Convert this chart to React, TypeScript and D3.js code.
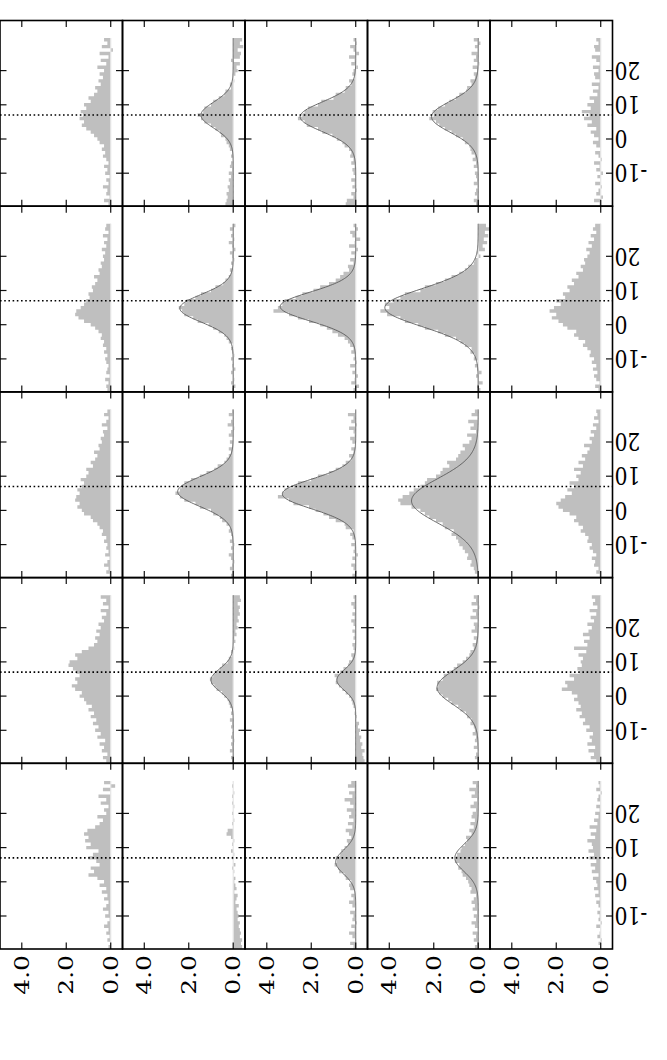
import React from 'react';
import * as d3 from 'd3';

// grid of 5x5 spectra, drawn rotated: flux runs right-to-left, velocity bottom-to-top
const W = 667;
const H = 1060;
const gridLeft = 0;
const gridTop = 20.5;
const panelW = 122.5;
const panelH = 185.7;

const fluxDomain = [4.98, -0.53];
const velDomain = [-19.65, 34.65];

const fluxTicks = [0, 2, 4];
const fluxTickLabels = ['0.0', '2.0', '4.0'];
const velTicks = [-10, 0, 10, 20];
const velTickLabels = ['-10', '0', '10', '20'];
const markerVelocity = 7.0;

// channel centres, km/s
const channels = d3.range(-19, 30);

// spectra, one row of panels per array, values for channels -19..29
const spectraRow1 = [
  [0.1, 0.3, 0.05, 0.2, 0.15, 0.35, 0.1, 0.2, 0.05, 0.25,
   0.15, 0.3, 0.1, 0.2, 0.35, 0.25, 0.4, 0.3, 0.5, 0.6,
   0.75, 0.9, 1.1, 1.3, 1.2, 1.4, 1.25, 1.35, 1.1, 1.2,
   0.9, 1.0, 0.75, 0.6, 0.7, 0.45, 0.55, 0.35, 0.5, 0.3,
   0.6, 0.2, 0.45, 0.1, 0.5, -0.1, 0.4, 0.15, 0.3],
  [0.35, 0.3, 0.25, 0.3, 0.2, 0.25, 0.15, 0.2, 0.1, 0.2,
   0.05, 0.15, 0.1, 0.0, 0.1, 0.05, 0.15, 0.2, 0.3, 0.35,
   0.55, 0.6, 0.8, 1.0, 1.3, 1.45, 1.6, 1.35, 1.3, 1.0,
   0.9, 0.65, 0.4, 0.35, 0.1, 0.15, -0.05, 0.0, -0.1, -0.2,
   -0.15, -0.3, 0.1, -0.3, -0.35, -0.2, -0.45, -0.3, -0.4],
  [0.45, 0.4, 0.1, 0.2, -0.05, 0.15, 0.05, 0.2, 0.0, 0.1,
   0.15, 0.05, 0.2, 0.1, 0.25, 0.2, 0.3, 0.5, 0.6, 0.85,
   1.05, 1.5, 1.7, 2.2, 2.3, 2.6, 2.4, 2.3, 2.15, 1.7,
   1.55, 1.0, 0.9, 0.5, 0.45, 0.2, 0.3, 0.05, 0.15, 0.1,
   -0.1, 0.2, 0.05, 0.3, -0.15, 0.1, 0.25, -0.05, 0.1],
  [0.1, 0.2, 0.05, 0.15, 0.1, 0.0, 0.2, 0.05, 0.1, 0.15,
   0.0, 0.2, 0.1, 0.25, 0.15, 0.3, 0.35, 0.4, 0.6, 0.7,
   1.0, 1.2, 1.5, 1.75, 1.9, 2.2, 2.0, 2.05, 1.8, 1.5,
   1.3, 1.0, 0.85, 0.55, 0.5, 0.3, 0.35, 0.15, 0.2, 0.05,
   0.25, -0.05, 0.2, 0.1, 0.3, 0.0, 0.15, -0.1, 0.2],
  [0.05, 0.3, -0.1, 0.2, 0.1, -0.05, 0.25, 0.0, 0.15, -0.1,
   0.2, 0.05, 0.3, -0.05, 0.1, 0.25, 0.0, 0.2, 0.35, 0.1,
   0.3, 0.45, 0.2, 0.6, 0.4, 0.75, 0.5, 0.85, 0.45, 0.6,
   0.3, 0.5, 0.15, 0.35, 0.1, 0.4, 0.05, 0.25, 0.3, 0.1,
   0.35, 0.05, 0.2, 0.4, 0.0, 0.25, 0.3, 0.1, 0.2],
];

const spectraRow2 = [
  [0.15, 0.2, 0.1, 0.25, 0.05, 0.2, 0.15, 0.1, 0.2, 0.25,
   0.15, 0.3, 0.2, 0.35, 0.3, 0.45, 0.4, 0.55, 0.7, 0.9,
   1.2, 1.45, 1.6, 1.55, 1.35, 1.2, 1.1, 0.95, 1.0, 0.8,
   0.85, 0.7, 0.6, 0.75, 0.5, 0.55, 0.4, 0.45, 0.3, 0.35,
   0.25, 0.4, 0.2, 0.3, 0.15, 0.35, 0.1, 0.25, 0.2],
  [0.05, -0.1, 0.1, -0.05, 0.0, 0.1, -0.1, 0.05, 0.0, 0.1,
   -0.05, 0.05, 0.1, 0.0, 0.2, 0.3, 0.4, 0.65, 0.9, 1.1,
   1.6, 1.8, 2.2, 2.3, 2.45, 2.2, 2.1, 1.7, 1.45, 1.0,
   0.8, 0.45, 0.35, 0.2, 0.1, 0.15, 0.0, 0.1, -0.05, 0.05,
   0.15, -0.1, 0.05, 0.2, -0.05, 0.1, 0.0, 0.15, -0.1],
  [0.1, -0.15, 0.2, 0.05, -0.1, 0.15, 0.0, 0.25, -0.05, 0.1,
   0.05, 0.2, 0.1, 0.25, 0.35, 0.5, 0.8, 1.05, 1.3, 1.6,
   2.1, 2.6, 3.0, 3.7, 3.5, 3.3, 3.2, 2.7, 2.4, 1.9,
   1.6, 1.2, 0.9, 0.7, 0.55, 0.3, 0.35, 0.1, 0.25, 0.05,
   0.2, -0.1, 0.3, 0.05, -0.2, 0.15, 0.25, -0.1, 0.1],
  [-0.1, 0.05, -0.2, 0.0, 0.1, -0.15, 0.05, 0.15, 0.0, 0.2,
   0.15, 0.35, 0.3, 0.6, 0.8, 1.0, 1.5, 1.8, 2.4, 2.7,
   3.3, 3.5, 4.1, 4.4, 4.0, 4.2, 3.8, 3.5, 3.3, 2.6,
   2.4, 1.9, 1.5, 1.2, 0.85, 0.6, 0.45, 0.2, 0.15, -0.1,
   0.05, -0.3, -0.2, -0.4, -0.25, -0.45, -0.3, -0.5, -0.35],
  [0.1, 0.25, 0.05, 0.2, 0.3, 0.15, 0.35, 0.2, 0.4, 0.3,
   0.5, 0.45, 0.6, 0.8, 0.7, 1.0, 1.2, 1.1, 1.5, 1.7,
   1.9, 2.2, 2.0, 2.3, 2.1, 1.8, 2.0, 1.6, 1.7, 1.4,
   1.5, 1.2, 1.3, 1.0, 1.1, 0.8, 0.9, 0.7, 0.75, 0.6,
   0.5, 0.65, 0.4, 0.55, 0.3, 0.45, 0.2, 0.35, 0.25],
];

const spectraRow3 = [
  [0.05, 0.2, 0.1, 0.3, 0.15, 0.05, 0.25, 0.1, 0.2, 0.15,
   0.3, 0.2, 0.4, 0.35, 0.5, 0.6, 0.8, 0.9, 1.2, 1.3,
   1.5, 1.4, 1.6, 1.55, 1.4, 1.5, 1.3, 1.2, 1.35, 1.1,
   1.0, 1.1, 0.8, 0.9, 0.7, 0.6, 0.75, 0.5, 0.55, 0.4,
   0.45, 0.3, 0.35, 0.15, 0.4, 0.2, 0.1, 0.3, 0.15],
  [0.1, 0.0, 0.15, 0.05, -0.05, 0.1, 0.2, 0.0, 0.1, -0.05,
   0.15, 0.05, 0.1, 0.2, 0.15, 0.3, 0.5, 0.6, 0.9, 1.0,
   1.5, 1.7, 2.2, 2.4, 2.6, 2.4, 2.3, 2.2, 1.9, 1.5,
   1.2, 0.85, 0.7, 0.4, 0.3, 0.2, 0.1, 0.2, 0.05, 0.15,
   0.0, 0.2, 0.1, -0.05, 0.25, 0.1, 0.0, 0.2, 0.05],
  [0.15, -0.05, 0.1, 0.2, 0.0, 0.15, -0.1, 0.1, 0.05, 0.2,
   0.0, 0.15, 0.25, 0.1, 0.45, 0.5, 0.9, 1.2, 1.45, 1.8,
   2.1, 2.8, 3.0, 3.5, 3.3, 3.2, 2.8, 2.6, 2.0, 1.7,
   1.2, 0.9, 0.6, 0.45, 0.2, 0.3, 0.1, 0.2, 0.0, 0.15,
   0.25, 0.05, 0.1, 0.3, -0.05, 0.2, 0.1, 0.35, 0.0],
  [0.05, 0.15, 0.2, 0.35, 0.3, 0.5, 0.45, 0.6, 0.7, 0.85,
   0.9, 1.0, 1.2, 1.1, 1.5, 1.6, 1.9, 2.2, 2.4, 2.6,
   3.0, 3.5, 3.6, 3.4, 3.1, 2.9, 2.6, 2.4, 2.3, 1.9,
   1.7, 1.6, 1.3, 1.4, 1.0, 0.9, 0.8, 0.6, 0.7, 0.4,
   0.3, 0.5, 0.1, 0.35, 0.2, 0.45, 0.0, 0.3, 0.15],
  [0.05, 0.2, 0.1, 0.3, 0.25, 0.4, 0.2, 0.35, 0.5, 0.4,
   0.6, 0.55, 0.7, 0.9, 0.8, 1.0, 1.2, 1.1, 1.4, 1.7,
   1.9, 2.0, 1.8, 1.6, 1.3, 1.5, 1.2, 1.4, 1.0, 1.1,
   0.9, 1.2, 0.8, 1.0, 0.7, 0.85, 0.6, 0.5, 0.75, 0.4,
   0.5, 0.3, 0.45, 0.2, 0.35, 0.1, 0.3, 0.15, 0.2],
];

const spectraRow4 = [
  [0.2, 0.35, 0.15, 0.4, 0.3, 0.5, 0.25, 0.6, 0.45, 0.7,
   0.55, 0.8, 0.65, 0.9, 0.75, 1.0, 0.85, 1.1, 1.2, 1.4,
   1.3, 1.6, 1.75, 1.5, 1.6, 1.4, 1.55, 1.7, 1.9, 1.85,
   1.5, 1.6, 1.3, 1.0, 0.75, 0.6, 0.7, 0.5, 0.65, 0.45,
   0.55, 0.3, 0.4, 0.2, 0.45, 0.1, 0.35, 0.2, 0.45],
  [0.05, 0.1, 0.0, 0.15, 0.05, 0.1, -0.05, 0.1, 0.05, 0.0,
   0.1, 0.05, 0.15, 0.0, 0.1, 0.05, 0.15, 0.2, 0.25, 0.4,
   0.5, 0.75, 0.85, 1.0, 1.05, 0.9, 0.8, 0.6, 0.5, 0.25,
   0.2, 0.05, 0.1, -0.05, 0.0, -0.1, -0.05, -0.15, -0.1, -0.2,
   -0.15, -0.25, -0.2, -0.3, -0.25, -0.3, -0.2, -0.35, -0.3],
  [-0.4, -0.35, -0.3, -0.4, -0.25, -0.3, -0.2, -0.25, -0.15, -0.2,
   -0.1, -0.15, 0.0, -0.05, 0.05, 0.0, 0.1, 0.15, 0.2, 0.3,
   0.45, 0.6, 0.75, 0.9, 0.85, 0.95, 0.7, 0.55, 0.35, 0.3,
   0.15, 0.2, 0.05, 0.1, 0.15, 0.0, 0.1, 0.05, 0.15, 0.0,
   0.1, 0.2, 0.05, 0.15, 0.0, 0.1, 0.2, 0.05, 0.1],
  [0.05, 0.15, 0.1, 0.0, 0.2, 0.05, 0.15, 0.1, 0.25, 0.15,
   0.2, 0.35, 0.3, 0.5, 0.55, 0.8, 0.9, 1.2, 1.35, 1.6,
   1.75, 1.9, 1.8, 1.85, 1.6, 1.55, 1.3, 1.1, 0.95, 0.7,
   0.55, 0.4, 0.35, 0.2, 0.25, 0.1, 0.2, 0.05, 0.3, 0.15,
   0.2, 0.0, 0.35, 0.1, 0.25, -0.05, 0.3, 0.1, 0.2],
  [0.2, 0.45, 0.3, 0.55, 0.25, 0.6, 0.4, 0.5, 0.35, 0.65,
   0.5, 0.8, 0.7, 0.95, 0.85, 1.1, 0.9, 1.0, 1.2, 1.05,
   1.3, 1.75, 1.5, 1.6, 1.2, 1.4, 0.95, 1.05, 0.85, 0.9,
   0.8, 1.0, 0.65, 1.2, 0.6, 0.75, 0.5, 0.8, 0.55, 0.4,
   0.6, 0.3, 0.45, 0.2, 0.5, 0.15, 0.35, 0.25, 0.4],
];

const spectraRow5 = [
  [0.1, 0.0, 0.15, 0.05, 0.2, 0.1, 0.3, 0.15, 0.05, 0.25,
   0.1, 0.35, 0.2, 0.1, 0.3, 0.15, 0.4, 0.2, 0.5, 0.3,
   0.6, 1.0, 0.75, 0.9, 0.5, 0.65, 1.0, 0.8, 0.55, 1.1,
   0.9, 1.15, 1.0, 1.2, 1.05, 0.7, 0.5, 0.35, 0.6, 0.2,
   0.3, 0.1, 0.45, 0.2, 0.55, 0.0, 0.35, -0.2, 0.3],
  [-0.4, -0.35, -0.4, -0.3, -0.35, -0.3, -0.25, -0.3, -0.2, -0.25,
   -0.2, -0.15, -0.25, -0.1, -0.15, -0.2, -0.05, -0.15, -0.1, -0.05,
   -0.1, 0.0, -0.05, 0.05, -0.1, 0.0, 0.05, -0.05, 0.1, 0.0,
   0.05, -0.05, 0.1, 0.3, 0.25, 0.0, 0.05, -0.05, 0.0, 0.05,
   0.0, -0.05, 0.05, 0.0, 0.05, -0.05, 0.0, 0.05, 0.0],
  [0.1, 0.25, 0.0, 0.15, 0.3, 0.05, 0.2, -0.05, 0.15, 0.1,
   0.25, 0.0, 0.15, 0.3, 0.1, 0.2, 0.05, 0.25, 0.3, 0.2,
   0.45, 0.5, 0.75, 0.8, 0.95, 0.85, 0.9, 0.7, 0.65, 0.5,
   0.35, 0.4, 0.2, 0.3, 0.45, 0.15, 0.35, 0.1, 0.3, 0.2,
   0.4, 0.1, 0.25, 0.5, 0.15, 0.3, 0.05, 0.35, 0.2],
  [0.15, 0.05, 0.2, 0.1, 0.25, 0.0, 0.15, 0.3, 0.1, 0.2,
   0.05, 0.25, 0.15, 0.3, 0.2, 0.1, 0.35, 0.3, 0.4, 0.45,
   0.55, 0.7, 0.75, 0.9, 0.85, 1.05, 1.0, 0.95, 0.8, 0.75,
   0.6, 0.5, 0.55, 0.3, 0.4, 0.2, 0.35, 0.15, 0.3, 0.25,
   0.1, 0.35, 0.2, 0.05, 0.3, 0.15, 0.4, 0.1, 0.25],
  [0.0, 0.1, -0.05, 0.15, 0.05, 0.0, 0.2, -0.05, 0.1, 0.05,
   0.15, 0.0, 0.1, 0.2, 0.05, 0.25, 0.1, 0.3, 0.15, 0.2,
   0.35, 0.1, 0.4, 0.25, 0.45, 0.2, 0.5, 0.3, 0.55, 0.35,
   0.4, 0.6, 0.25, 0.45, 0.2, 0.5, 0.15, 0.3, 0.1, 0.25,
   0.05, 0.2, 0.0, 0.15, 0.1, -0.05, 0.2, 0.05, 0.1],
];

const spectra = [spectraRow1, spectraRow2, spectraRow3, spectraRow4, spectraRow5];

// gaussian fits per panel (row-major), amplitude 0 = no fit
const fitAmp = [
  0, 1.45, 2.5, 2.1, 0,
  0, 2.4, 3.4, 4.2, 0,
  0, 2.5, 3.3, 3.0, 0,
  0, 1.0, 0.85, 1.85, 0,
  0, 0, 0.9, 1.05, 0,
];
const fitCenter = [
  0, 7.0, 6.5, 6.5, 0,
  0, 4.8, 5.3, 5.0, 0,
  0, 5.5, 4.8, 2.8, 0,
  0, 4.7, 4.7, 2.5, 0,
  0, 0, 5.8, 7.0, 0,
];
const fitSigma = [
  0, 3.8, 4.3, 4.5, 0,
  0, 4.0, 4.2, 5.5, 0,
  0, 4.3, 4.3, 6.5, 0,
  0, 3.3, 3.0, 5.0, 0,
  0, 0, 3.5, 4.0, 0,
];

const textScaleY = 1.23;
const labelFont = 20.3;

function Panel({ row, col }: { row: number; col: number }) {
  const left = gridLeft + col * panelW;
  const top = gridTop + row * panelH;
  const x = d3.scaleLinear().domain(fluxDomain).range([left, left + panelW]);
  const y = d3.scaleLinear().domain(velDomain).range([top + panelH, top]);
  const data = spectra[row][col];
  const k = row * 5 + col;

  const vLo = channels[0] - 0.5;
  const vHi = channels[channels.length - 1] + 0.5;

  // stepped outline of the spectrum, closed back along zero flux
  const pts: [number, number][] = [[x(0), y(vLo)]];
  channels.forEach((v, i) => {
    pts.push([x(data[i]), y(v - 0.5)]);
    pts.push([x(data[i]), y(v + 0.5)]);
  });
  pts.push([x(0), y(vHi)]);
  const area = d3.line()(pts) + 'Z';

  let fitPath: string | null = null;
  if (fitAmp[k] > 0) {
    const vs = d3.range(vLo, vHi + 0.001, 0.25);
    fitPath = d3.line<number>()
      .x(v => x(fitAmp[k] * Math.exp(-((v - fitCenter[k]) ** 2) / (2 * fitSigma[k] ** 2))))
      .y(v => y(v))(vs);
  }

  const tl = 6.5;
  const id = `clip-${row}-${col}`;
  return (
    <g>
      <clipPath id={id}>
        <rect x={left} y={top} width={panelW} height={panelH} />
      </clipPath>
      <g clipPath={`url(#${id})`}>
        <path d={area} fill="#bfbfbf" stroke="none" />
        <line x1={x(0)} x2={x(0)} y1={y(vLo)} y2={y(vHi)} stroke="#e6e6e6" strokeWidth={1.2} />
        {fitPath && <path d={fitPath} fill="none" stroke="#5a5a5a" strokeWidth={0.9} />}
        <line x1={left} x2={left + panelW} y1={y(markerVelocity)} y2={y(markerVelocity)}
          stroke="#000" strokeWidth={1.6} strokeDasharray="1.6,2.6" />
      </g>
      {fluxTicks.map(f => (
        <g key={'f' + f} stroke="#111" strokeWidth={1.2}>
          <line x1={x(f)} x2={x(f)} y1={top} y2={top + tl} />
          <line x1={x(f)} x2={x(f)} y1={top + panelH} y2={top + panelH - tl} />
        </g>
      ))}
      {velTicks.map(v => (
        <g key={'v' + v} stroke="#111" strokeWidth={1.2}>
          <line x1={left} x2={left + tl} y1={y(v)} y2={y(v)} />
          <line x1={left + panelW} x2={left + panelW - tl} y1={y(v)} y2={y(v)} />
        </g>
      ))}
      <rect x={left} y={top} width={panelW} height={panelH} fill="none" stroke="#000" strokeWidth={1.6} />
      {row === 4 && fluxTicks.map((f, i) => (
        <text key={'fl' + f}
          transform={`translate(${x(f)},${top + panelH + 6}) scale(1,${textScaleY}) rotate(-90)`}
          textAnchor="end" dominantBaseline="central"
          fontFamily="DejaVu Serif" fontSize={labelFont} fill="#000">
          {fluxTickLabels[i]}
        </text>
      ))}
      {col === 4 && velTicks.map((v, i) => (
        <text key={'vl' + v}
          transform={`translate(${left + panelW + 2},${y(v)}) scale(1,${textScaleY}) rotate(180)`}
          textAnchor="end" dominantBaseline="central"
          fontFamily="DejaVu Serif" fontSize={labelFont} fill="#000">
          {velTickLabels[i]}
        </text>
      ))}
    </g>
  );
}

export default function App() {
  const cells: [number, number][] = [];
  for (let r = 0; r < 5; r++) for (let c = 0; c < 5; c++) cells.push([r, c]);
  return (
    <svg width={W} height={H} viewBox={`0 0 ${W} ${H}`}
      style={{ position: 'absolute', left: 0, top: 0, background: '#fff' }}>
      <rect x={0} y={0} width={W} height={H} fill="#fff" />
      {cells.map(([r, c]) => <Panel key={`${r}-${c}`} row={r} col={c} />)}
    </svg>
  );
}
